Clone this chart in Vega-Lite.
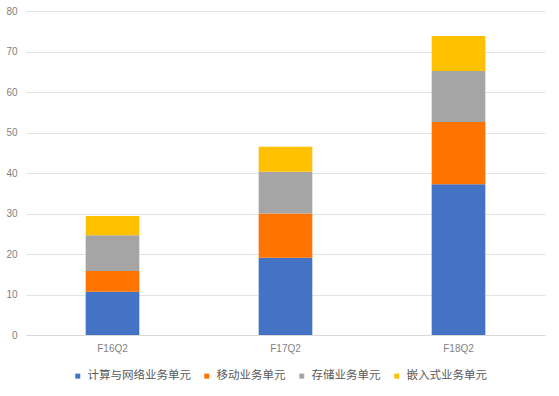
{
  "$schema": "https://vega.github.io/schema/vega-lite/v6.json",
  "autosize": {"type": "none"},
  "width": 519,
  "height": 324,
  "padding": {"left": 26, "top": 11, "right": 14, "bottom": 61},
  "background": "white",
  "config": {
    "font": "Noto Sans CJK SC",
    "view": {"stroke": null}
  },
  "data": {
    "values": [
      {"quarter": "F16Q2", "unit": "计算与网络业务单元", "order": 1, "value": 10.7},
      {"quarter": "F16Q2", "unit": "移动业务单元", "order": 2, "value": 5.1},
      {"quarter": "F16Q2", "unit": "存储业务单元", "order": 3, "value": 8.8},
      {"quarter": "F16Q2", "unit": "嵌入式业务单元", "order": 4, "value": 4.8},
      {"quarter": "F17Q2", "unit": "计算与网络业务单元", "order": 1, "value": 19.1},
      {"quarter": "F17Q2", "unit": "移动业务单元", "order": 2, "value": 10.9},
      {"quarter": "F17Q2", "unit": "存储业务单元", "order": 3, "value": 10.3},
      {"quarter": "F17Q2", "unit": "嵌入式业务单元", "order": 4, "value": 6.2},
      {"quarter": "F18Q2", "unit": "计算与网络业务单元", "order": 1, "value": 37.2},
      {"quarter": "F18Q2", "unit": "移动业务单元", "order": 2, "value": 15.4},
      {"quarter": "F18Q2", "unit": "存储业务单元", "order": 3, "value": 12.6},
      {"quarter": "F18Q2", "unit": "嵌入式业务单元", "order": 4, "value": 8.6}
    ]
  },
  "mark": {"type": "bar"},
  "encoding": {
    "x": {
      "field": "quarter",
      "type": "nominal",
      "title": null,
      "scale": {"paddingInner": 0.69, "paddingOuter": 0.345},
      "axis": {
        "labelAngle": 0,
        "labelColor": "#7f7f7f",
        "labelFontSize": 10,
        "labelFont": "Liberation Sans",
        "labelPadding": 8,
        "ticks": false,
        "domainColor": "#d9d9d9",
        "domainWidth": 1
      }
    },
    "y": {
      "field": "value",
      "type": "quantitative",
      "aggregate": "sum",
      "stack": "zero",
      "title": null,
      "scale": {"domain": [0, 80], "nice": false},
      "axis": {
        "values": [0, 10, 20, 30, 40, 50, 60, 70, 80],
        "labelColor": "#7f7f7f",
        "labelFontSize": 10,
        "labelFont": "Liberation Sans",
        "labelPadding": 9,
        "ticks": false,
        "domain": false,
        "gridColor": "#e3e3e3",
        "gridWidth": 1
      }
    },
    "color": {
      "field": "unit",
      "type": "nominal",
      "sort": ["计算与网络业务单元", "移动业务单元", "存储业务单元", "嵌入式业务单元"],
      "scale": {
        "domain": ["计算与网络业务单元", "移动业务单元", "存储业务单元", "嵌入式业务单元"],
        "range": ["#4472C4", "#FF7300", "#A5A5A5", "#FFC000"]
      },
      "legend": {
        "title": null,
        "orient": "none",
        "direction": "horizontal",
        "legendX": 46,
        "legendY": 359,
        "symbolType": "square",
        "symbolSize": 25,
        "symbolStrokeWidth": 0,
        "labelFontSize": 11.5,
        "labelColor": "#595959",
        "labelOffset": 4,
        "columnPadding": 10
      }
    },
    "order": {"field": "order", "type": "quantitative"}
  }
}
